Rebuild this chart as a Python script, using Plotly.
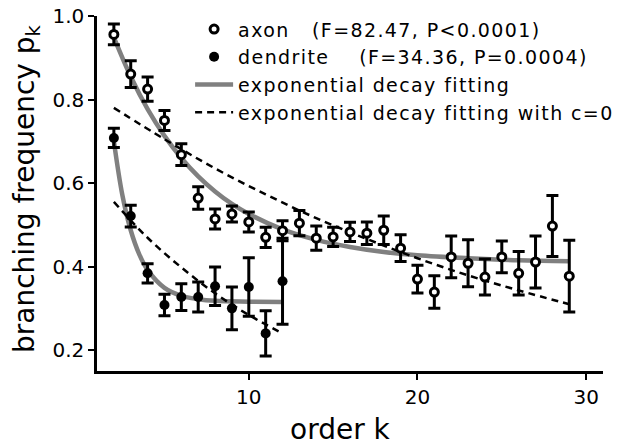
import plotly.graph_objects as go

# ---- data ----
axon_k = [2, 3, 4, 5, 6, 7, 8, 9, 10, 11, 12, 13, 14, 15, 16, 17, 18, 19, 20, 21, 22, 23, 24, 25, 26, 27, 28, 29]
axon_p = [0.956, 0.861, 0.825, 0.750, 0.668, 0.564, 0.514, 0.526, 0.507, 0.470, 0.486, 0.504, 0.468, 0.471, 0.483,
          0.480, 0.487, 0.444, 0.370, 0.339, 0.423, 0.408, 0.375, 0.423, 0.384, 0.411, 0.497, 0.377]
axon_err = [0.025, 0.032, 0.029, 0.024, 0.026, 0.027, 0.024, 0.019, 0.024, 0.024, 0.024, 0.030, 0.029, 0.023, 0.023,
            0.027, 0.034, 0.032, 0.033, 0.039, 0.050, 0.056, 0.043, 0.038, 0.052, 0.062, 0.073, 0.086]

dend_k = [2, 3, 4, 5, 6, 7, 8, 9, 10, 11, 12]
dend_p = [0.708, 0.521, 0.384, 0.308, 0.327, 0.327, 0.353, 0.300, 0.351, 0.240, 0.365]
dend_err = [0.023, 0.026, 0.023, 0.026, 0.032, 0.036, 0.046, 0.051, 0.070, 0.054, 0.103]

axon_fit_k = [2, 3, 4, 5, 6, 7, 8, 9, 10, 12, 14, 16, 18, 20, 23, 26, 29]
axon_fit_p = [0.949, 0.855, 0.777, 0.713, 0.660, 0.616, 0.580, 0.550, 0.526, 0.489, 0.464, 0.447, 0.435, 0.427, 0.420, 0.415, 0.413]
axon_fit0_k = [2, 5, 8, 11, 14, 17, 20, 23, 26, 29]
axon_fit0_p = [0.780, 0.705, 0.635, 0.573, 0.516, 0.466, 0.420, 0.379, 0.343, 0.310]

dend_fit_k = [2, 2.5, 3, 3.5, 4, 5, 6, 7, 8, 10, 12]
dend_fit_p = [0.700, 0.572, 0.487, 0.430, 0.392, 0.349, 0.330, 0.322, 0.318, 0.316, 0.315]
dend_fit0_k = [2, 4, 6, 8, 10, 12]
dend_fit0_p = [0.555, 0.469, 0.398, 0.336, 0.284, 0.240]

labels = ["axon\u00a0\u00a0\u00a0(F=82.47, P&lt;0.0001)",
          "dendrite\u00a0\u00a0\u00a0\u00a0(F=34.36, P=0.0004)",
          "exponential decay fitting",
          "exponential decay fitting with c=0"]
x_title = "order k"
y_title = "branching frequency p<sub>k</sub>"

GRAY = "#808080"
FONT = "DejaVu Sans"

fig = go.Figure()

# fits (under the data)
fig.add_trace(go.Scatter(x=axon_fit_k, y=axon_fit_p, mode="lines", line=dict(color=GRAY, width=4.5, shape="spline"),
                         name=labels[2], legendrank=3))
fig.add_trace(go.Scatter(x=dend_fit_k, y=dend_fit_p, mode="lines", line=dict(color=GRAY, width=4.5, shape="spline"),
                         showlegend=False))
fig.add_trace(go.Scatter(x=axon_fit0_k, y=axon_fit0_p, mode="lines",
                         line=dict(color="black", width=2.5, dash="7px,5px", shape="spline"),
                         name=labels[3], legendrank=4))
fig.add_trace(go.Scatter(x=dend_fit0_k, y=dend_fit0_p, mode="lines",
                         line=dict(color="black", width=2.5, dash="7px,5px", shape="spline"),
                         showlegend=False))

# data
fig.add_trace(go.Scatter(x=dend_k, y=dend_p, mode="markers",
                         marker=dict(symbol="circle", size=10, color="black", line=dict(width=0)),
                         error_y=dict(type="data", array=dend_err, color="black", thickness=3, width=6),
                         name=labels[1], legendrank=2))
fig.add_trace(go.Scatter(x=axon_k, y=axon_p, mode="markers",
                         marker=dict(symbol="circle", size=8, color="white", line=dict(width=3, color="black")),
                         error_y=dict(type="data", array=axon_err, color="black", thickness=3, width=6),
                         name=labels[0], legendrank=1))

fig.update_layout(
    width=621, height=445,
    margin=dict(l=97, r=18, t=16, b=74, autoexpand=False),
    paper_bgcolor="white", plot_bgcolor="white",
    font=dict(family=FONT, color="black"),
    showlegend=True,
    legend=dict(x=0.184, y=0.977, xref="paper", yref="container", xanchor="left", yanchor="top",
                bgcolor="rgba(0,0,0,0)", font=dict(size=19, family=FONT), tracegroupgap=0, itemwidth=38),
    xaxis=dict(range=[1, 31], tickvals=[10, 20, 30], showline=True, linecolor="black", linewidth=2.5,
               ticks="outside", ticklen=6, tickwidth=2, tickcolor="black", showgrid=False, zeroline=False,
               automargin=False, tickfont=dict(size=20)),
    yaxis=dict(range=[0.15, 1.0], tickvals=[0.2, 0.4, 0.6, 0.8, 1.0], ticktext=["0.2", "0.4", "0.6", "0.8", "1.0"],
               showline=True, linecolor="black", linewidth=2.5, automargin=False,
               ticks="outside", ticklen=6, tickwidth=2, tickcolor="black", showgrid=False, zeroline=False,
               tickfont=dict(size=20)),
    annotations=[
        dict(text=x_title, xref="paper", yref="paper", x=0.482, y=-0.166, xanchor="center", yanchor="middle",
             showarrow=False, font=dict(size=28, family=FONT)),
        dict(text=y_title, xref="paper", yref="paper", x=-0.138, y=0.513, xanchor="center", yanchor="middle",
             textangle=-90, showarrow=False, font=dict(size=28, family=FONT)),
    ],
)

post = ("document.body.style.margin='0';document.body.style.padding='0';"
        "document.querySelectorAll('.legendtext').forEach(function(t){t.setAttribute('letter-spacing','1.4px');});"
        "document.querySelectorAll('.legend, .legend [clip-path]').forEach(function(e){e.removeAttribute('clip-path');});")
fig.write_html("out.html", config={"displayModeBar": False}, post_script=post)
